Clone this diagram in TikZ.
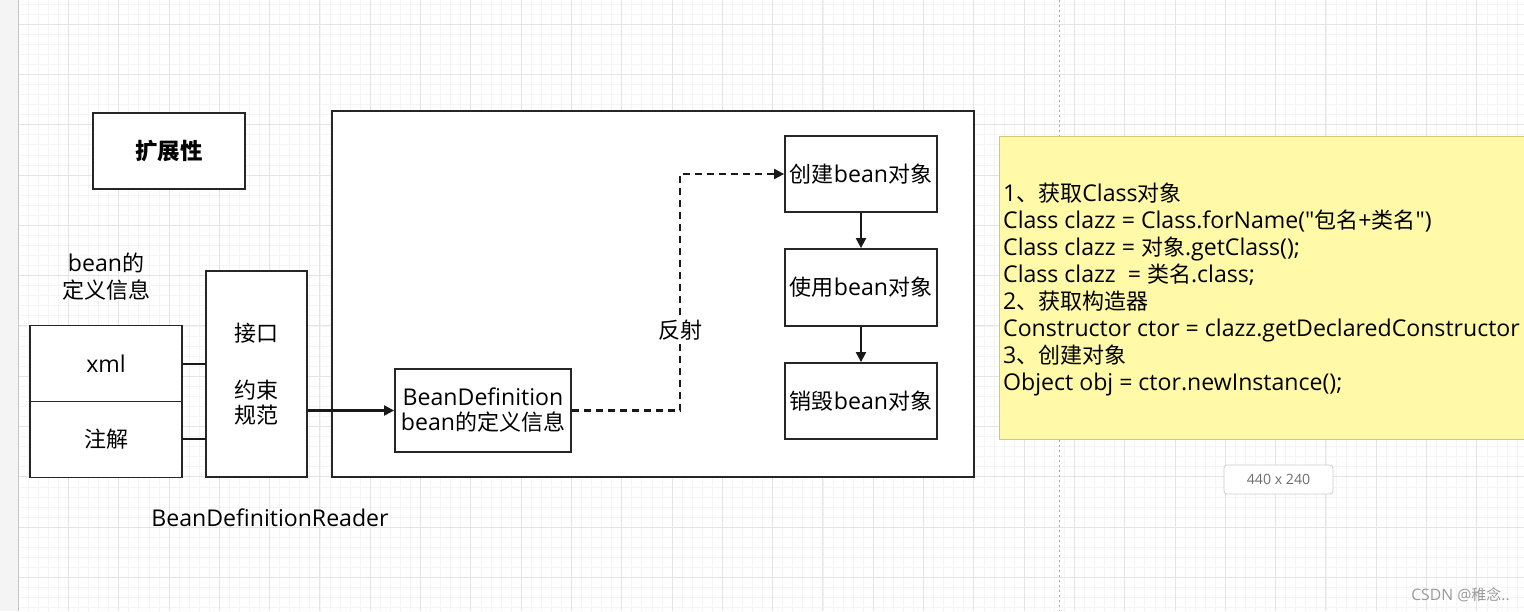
\documentclass[tikz,border=0pt]{standalone}
\usepackage{fontspec}
\setmainfont{Noto Sans CJK SC}[Ligatures=TeXOff]
\newfontfamily\lat{Open Sans}[Ligatures=TeXOff,Scale=1.05]
\usetikzlibrary{arrows.meta}
\definecolor{gridmaj}{RGB}{228,228,228}
\definecolor{gridmin}{RGB}{244,244,244}
\definecolor{notefill}{RGB}{255,249,168}
\definecolor{notedraw}{RGB}{210,202,110}
\definecolor{strip}{RGB}{244,244,244}
\definecolor{tagtext}{RGB}{110,110,110}
\tikzset{
  box/.style={draw=black!85, line width=1.8pt, fill=white, inner sep=0pt, align=center, font=\fontsize{22}{25}\selectfont},
  conn/.style={line width=2.1pt, draw=black!90},
  arr/.style={conn, -{Triangle[length=10pt,width=10pt]}},
  darr/.style={conn, dash pattern=on 7pt off 5pt, -{Triangle[length=10pt,width=10pt]}},
  lbl/.style={inner sep=1pt, align=center, font=\fontsize{22}{27}\selectfont},
}
\begin{document}
\begin{tikzpicture}[x=1pt,y=-1pt]
\clip (0,0) rectangle (1524,611);
\fill[white] (0,0) rectangle (1524,611);
% grid
\foreach \i in {0,...,150} {
  \draw[gridmin, line width=0.5pt] ({18+\i*10.06},0) -- ({18+\i*10.06},611);
}
\foreach \i in {-3,...,60} {
  \draw[gridmin, line width=0.5pt] (18,{24+\i*10.06}) -- (1524,{24+\i*10.06});
}
\foreach \i in {0,...,30} {
  \draw[gridmaj, line width=0.8pt] ({18+\i*50.3},0) -- ({18+\i*50.3},611);
}
\foreach \i in {0,...,12} {
  \draw[gridmaj, line width=0.8pt] (18,{24+\i*50.3}) -- (1524,{24+\i*50.3});
}
\draw[gray!70, line width=1pt, dash pattern=on 2pt off 3pt] (1059,0) -- (1059,611);
% left strip
\fill[strip] (0,0) rectangle (18,611);
\draw[gray!45, line width=0.8pt] (18,0) -- (18,611);

% nodes
\node[box, minimum width=152pt, minimum height=76pt, font=\fontsize{22.5}{25}\selectfont\bfseries] (ext) at (169,151) {扩展性};
\node[lbl] (beaninfo) at (106,277) {{\lat bean}的\\定义信息};
\node[box, minimum width=152pt, minimum height=76pt] (xml) at (106,363.5) {\lat xml};
\node[box, minimum width=152pt, minimum height=76pt] (anno) at (106,439.5) {注解};
\node[box, minimum width=101pt, minimum height=206pt] (reader) at (256.5,374) {接口\\[32pt]约束\\规范};
\node[lbl] (readerlbl) at (270,518) {\lat BeanDefinitionReader};
\node[box, minimum width=642pt, minimum height=366pt] (cont) at (653,294) {};
\node[box, minimum width=176pt, minimum height=83pt] (bd) at (483,410.5) {{\lat BeanDefinition}\\{\lat bean}的定义信息};
\node[box, minimum width=152pt, minimum height=76pt] (create) at (861,174) {创建{\lat bean}对象};
\node[box, minimum width=152pt, minimum height=77pt] (use) at (861,287.5) {使用{\lat bean}对象};
\node[box, minimum width=152pt, minimum height=76pt] (destroy) at (861,401) {销毁{\lat bean}对象};

% connectors
\draw[conn] (xml.east |- 0,364) -- (reader.west |- 0,364);
\draw[conn] (anno.east |- 0,439) -- (reader.west |- 0,439);
\draw[arr] (bd.west -| reader.east) -- (bd.west);
\draw[darr] (bd.east) -- ++(108,0) coordinate (bend) |- (create.west);
\node[lbl, fill=white, inner sep=3pt] (refl) at (680,330) {反射};
\draw[arr] (create.south) -- (use.north);
\draw[arr] (use.south) -- (destroy.north);

% note
\node[draw=notedraw, fill=notefill, line width=1.2pt, minimum width=540pt, minimum height=303pt, anchor=north west, inner sep=0pt] (note) at (999,136) {};
\node[lbl, anchor=west, align=left, inner sep=0pt] (notetext) at (1003,289) {{\lat 1}、获取{\lat Class}对象\\
{\lat Class clazz = Class.forName(\char34}包名{\lat +}类名{\lat \char34)}\\
{\lat Class clazz = }对象{\lat .getClass();}\\
{\lat Class clazz \ = }类名{\lat .class;}\\
{\lat 2}、获取构造器\\
{\lat Constructor ctor = clazz.getDeclaredConstructor}\\
{\lat 3}、创建对象\\
{\lat Object obj = ctor.newInstance();}};

% size tag
\node[draw=gray!40, fill=white, rounded corners=3pt, line width=0.8pt, minimum width=109pt, minimum height=29pt, inner sep=0pt, text=tagtext, font=\lat\fontsize{13.5}{16}\selectfont] (tag) at (1278.5,479.5) {440 x 240};

% watermark
\node[text=gray!80, font=\fontsize{15}{17}\selectfont, anchor=east, inner sep=0pt] (wm) at (1510,595) {{\lat CSDN @}稚念..};
\end{tikzpicture}
\end{document}
